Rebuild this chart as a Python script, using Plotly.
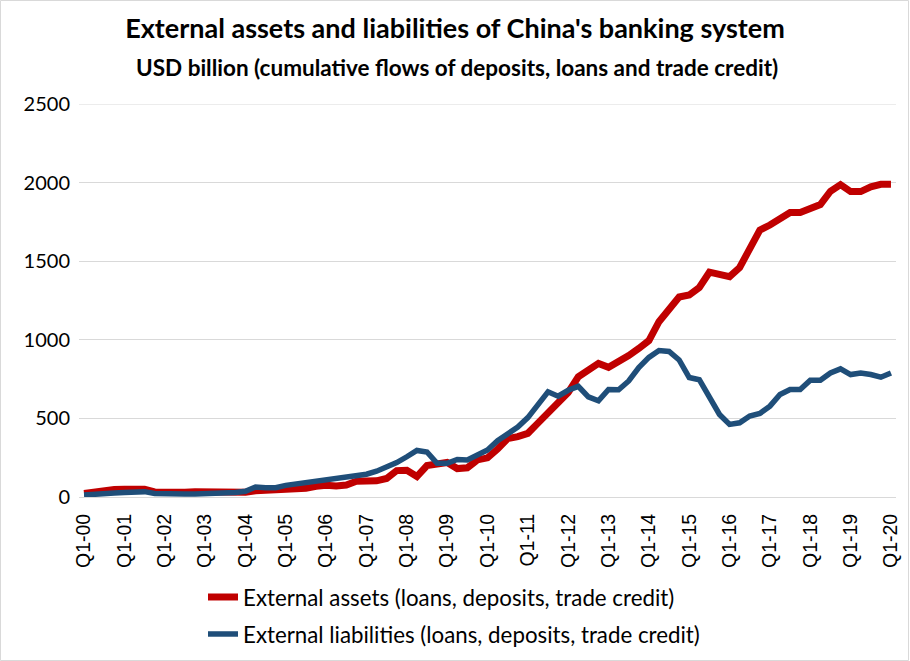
import plotly.graph_objects as go

quarters = [f"Q{q}-{y:02d}" for y in range(0, 21) for q in range(1, 5)][:81]

assets = [23, 34, 45, 47, 49, 49, 49, 32, 28, 28,
          30, 34, 32, 30, 28, 28, 30, 40, 42, 43,
          51, 58, 55, 68, 75, 70, 76, 100, 98, 103,
          118, 168, 170, 130, 200, 212, 220, 181, 186, 236,
          249, 305, 371, 384, 405, 470, 535, 610, 665, 765,
          804, 850, 825, 860, 900, 945, 995, 1115, 1188, 1272,
          1285, 1333, 1430, 1419, 1402, 1460, 1582, 1698, 1730, 1765,
          1810, 1810, 1835, 1860, 1945, 1987, 1943, 1943, 1973, 1989,
          1989]

liabilities = [13, 19, 23, 25, 28, 30, 34, 23, 19, 19,
               19, 19, 21, 23, 23, 28, 36, 64, 59, 59,
               74, 83, 88, 99, 112, 114, 122, 133, 145, 164,
               187, 219, 256, 296, 286, 214, 214, 239, 235, 270,
               299, 358, 400, 445, 505, 588, 669, 641, 679, 704,
               637, 612, 684, 682, 738, 823, 888, 932, 926, 872,
               760, 746, 640, 525, 462, 472, 515, 531, 578, 652,
               684, 684, 743, 743, 789, 815, 779, 789, 779, 762,
               789]

tick_idx = list(range(0, 81, 4))
tick_labels = [quarters[i] for i in tick_idx]
y_ticks = [0, 500, 1000, 1500, 2000, 2500]

title_text = "External assets and liabilities of China's banking system"
subtitle_text = "USD billion (cumulative flows of deposits, loans and trade credit)"
name_assets = "External assets (loans, deposits, trade credit)"
name_liab = "External liabilities (loans, deposits, trade credit)"

x = list(range(len(quarters)))

fig = go.Figure()
fig.add_trace(go.Scatter(x=x, y=assets, mode="lines", name=name_assets,
                         legendgroup="a",
                         line=dict(color="#C00000", width=7),
                         hoverinfo="skip"))
fig.add_trace(go.Scatter(x=x, y=liabilities, mode="lines", name=name_liab,
                         legendgroup="b",
                         line=dict(color="#1F4E79", width=5.5),
                         hoverinfo="skip"))

L, R, T, B = 79, 14, 104, 164
W, H = 910, 661
pw, ph = W - L - R, H - T - B

fig.update_layout(
    width=W, height=H,
    margin=dict(l=L, r=R, t=T, b=B, autoexpand=False),
    paper_bgcolor="white", plot_bgcolor="white",
    font=dict(family="Lato", color="#000000"),
    title=dict(text="<b>" + title_text + "</b>", x=0.5, xref="container",
               xanchor="center", y=1 - 29 / H, yref="container", yanchor="middle",
               font=dict(size=27, family="Lato", color="#000000")),
    showlegend=True,
    legend=dict(x=(203 - L) / pw, xanchor="left", y=-(576 - (H - B)) / ph, yanchor="top",
                orientation="v", font=dict(size=22.3, family="Lato", color="#000000"),
                tracegroupgap=5, bgcolor="rgba(0,0,0,0)"),
    xaxis=dict(range=[-0.5, 80.5], tickmode="array", tickvals=tick_idx, ticktext=tick_labels,
               tickangle=-90, tickfont=dict(size=19.5, family="Liberation Sans", color="#000000"),
               showgrid=False, showline=True, linecolor="#D9D9D9", linewidth=1,
               ticks="", ticklabelstandoff=8, zeroline=False, fixedrange=True),
    yaxis=dict(range=[0, 2500], tickmode="array", tickvals=y_ticks,
               tickfont=dict(size=20, family="Lato", color="#000000"),
               showgrid=True, gridcolor="#D9D9D9", gridwidth=1, zeroline=False,
               showline=False, ticks="", ticklabelstandoff=8, fixedrange=True),
    annotations=[dict(text="<b>" + subtitle_text + "</b>", xref="paper", yref="paper",
                      x=(457 - L) / pw, y=1 + (T - 67) / ph, xanchor="center", yanchor="middle",
                      showarrow=False, font=dict(size=22.5, family="Lato", color="#000000"))],
    shapes=[dict(type="rect", xref="paper", yref="paper",
                 x0=-(L - 0.5) / pw, x1=1 + (R - 1.5) / pw,
                 y0=-(B - 0.5) / ph, y1=1 + (T - 0.5) / ph,
                 line=dict(color="#D9D9D9", width=1), fillcolor="rgba(0,0,0,0)", layer="below"),
            dict(type="line", xref="paper", yref="y", x0=0, x1=1, y0=2500, y1=2500,
                 line=dict(color="#D9D9D9", width=1), layer="below")],
)

fig.write_html("out.html", config={"displayModeBar": False},
               post_script="document.body.style.margin='0';document.body.style.overflow='hidden';")
